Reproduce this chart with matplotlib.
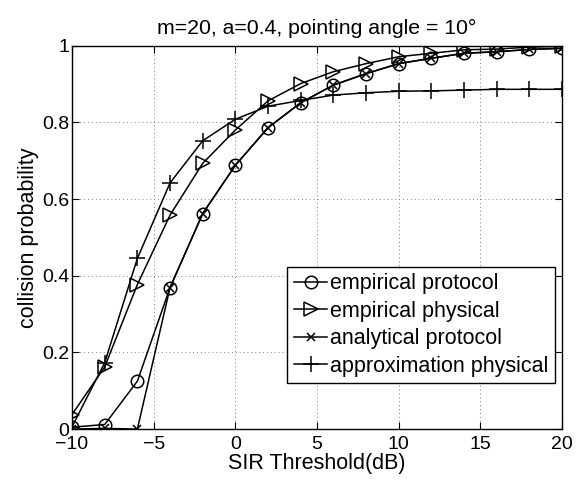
import numpy as np
import matplotlib
matplotlib.use('Agg')
import matplotlib.pyplot as plt

plt.rcParams['font.family'] = ['Liberation Sans', 'DejaVu Sans']

# SIR threshold sweep (dB)
sir_db = [-10, -8, -6, -4, -2, 0, 2, 4, 6, 8, 10, 12, 14, 16, 18, 20]

emp_protocol = [0.005, 0.012, 0.125, 0.369, 0.562, 0.688, 0.786, 0.851, 0.897,
                0.927, 0.953, 0.967, 0.980, 0.984, 0.990, 0.993]
emp_physical = [0.038, 0.162, 0.377, 0.558, 0.693, 0.780, 0.856, 0.901, 0.932,
                0.953, 0.971, 0.980, 0.989, 0.991, 0.996, 0.998]
ana_protocol = [0.0, 0.002, 0.0, 0.369, 0.562, 0.688, 0.786, 0.851, 0.897,
                0.927, 0.953, 0.967, 0.980, 0.984, 0.990, 0.993]
approx_physical = [0.006, 0.173, 0.445, 0.642, 0.752, 0.808, 0.842, 0.857, 0.871,
                   0.877, 0.881, 0.882, 0.884, 0.886, 0.886, 0.886]

fig = plt.figure(figsize=(5.76, 4.8), dpi=100)
ax = fig.add_axes([0.125, 0.106, 0.851, 0.799])

kw = dict(color='black', linewidth=1.1, markerfacecolor='none',
          markeredgecolor='black', markeredgewidth=1.1)
ax.plot(sir_db, emp_protocol, '-o', markersize=9, label='empirical protocol', **kw)
ax.plot(sir_db, emp_physical, '->', markersize=10, label='empirical physical', **kw)
ax.plot(sir_db, ana_protocol, '-x', markersize=6, label='analytical protocol', **kw)
ax.plot(sir_db, approx_physical, '-+', markersize=11, label='approximation physical', **kw)

ax.set_xlim(-10, 20)
ax.set_ylim(0, 1)
ax.set_xticks([-10, -5, 0, 5, 10, 15, 20])
ax.set_xticklabels(['\u221210', '\u22125', '0', '5', '10', '15', '20'])
ax.set_yticks([0, 0.2, 0.4, 0.6, 0.8, 1])
ax.set_yticklabels(['0', '0.2', '0.4', '0.6', '0.8', '1'])
ax.tick_params(direction='in', top=True, right=True, labelsize=14, length=5,
               width=0.8)
ax.tick_params(axis='x', pad=5)
ax.tick_params(axis='y', pad=2)
ax.grid(True, linestyle=(0, (1, 3)), color='gray', linewidth=0.7)
for s in ax.spines.values():
    s.set_linewidth(1.0)

ax.set_xlabel('SIR Threshold(dB)', fontsize=15.5, labelpad=0)
ax.set_ylabel('collision probability', fontsize=15.5, labelpad=2)
ax.set_title('m=20, a=0.4, pointing angle = 10\u00b0', fontsize=15.3, pad=8)

leg = ax.legend(loc='lower right', bbox_to_anchor=(0.986, 0.12), fontsize=15.5,
                fancybox=False, framealpha=1, edgecolor='black',
                handlelength=1.55, handletextpad=0.15, borderpad=0.3,
                labelspacing=0.3, borderaxespad=0)
leg.get_frame().set_linewidth(1.0)

fig.savefig('out.png', dpi=100)
